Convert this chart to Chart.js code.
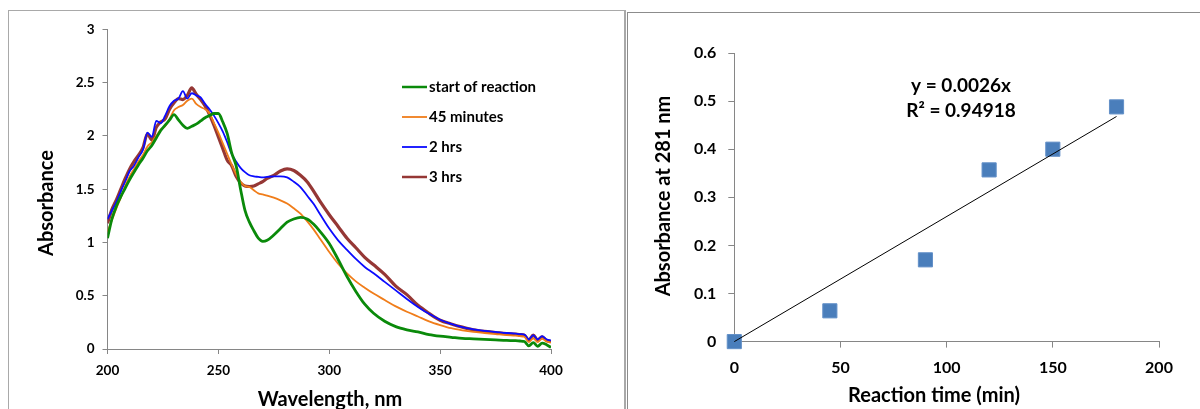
<!DOCTYPE html>
<html lang="en">
<head>
  <meta charset="UTF-8">
  <title>Absorbance vs. reaction time</title>
  <script src="https://cdn.jsdelivr.net/npm/chart.js"></script>
  <style>
    html, body {
      margin: 0;
      padding: 0;
      background: #ffffff;
      overflow: hidden;
      width: 1200px;
      height: 409px;
    }
    .panel {
      position: absolute;
      background: #ffffff;
    }
    #spectraPanel {
      left: 8px;
      top: 10px;
      width: 615px;
      height: 420px;
      border: 1px solid #a9a9a9;
      border-right-width: 2px;
    }
    #kineticsPanel {
      left: 627px;
      top: 12px;
      width: 600px;
      height: 420px;
      border: 1px solid #8c8c8c;
    }
    canvas {
      position: absolute;
      top: 0;
    }
    #spectraChart { left: 0; }
    #kineticsChart { left: 627px; }
  </style>
</head>
<body>
  <div class="panel" id="spectraPanel"></div>
  <div class="panel" id="kineticsPanel"></div>
  <canvas id="spectraChart" width="625" height="420"></canvas>
  <canvas id="kineticsChart" width="573" height="420"></canvas>

  <script>
    // UV spectra, absorbance per wavelength (nm)
    const wavelengths = [
      200, 202, 204, 206, 208, 210, 212, 214, 216, 218,
      220, 222, 224, 226, 228, 230, 232, 234, 236, 238,
      240, 242, 244, 246, 248, 250, 252, 254, 256, 258,
      260, 262, 264, 266, 268, 270, 272, 275, 278, 281,
      284, 287, 290, 293, 296, 300, 304, 308, 312, 316,
      320, 325, 330, 335, 340, 345, 350, 355, 360, 365,
      370, 375, 380, 384, 386, 388, 390, 392, 394, 396,
      398, 400
    ];
    const startOfReaction = [
      1.04, 1.22, 1.34, 1.43, 1.51, 1.59, 1.66, 1.73, 1.79, 1.86,
      1.91, 1.98, 2.05, 2.10, 2.15, 2.20, 2.15, 2.10, 2.07, 2.09,
      2.11, 2.14, 2.17, 2.19, 2.21, 2.21, 2.13, 2.02, 1.84, 1.72,
      1.50, 1.30, 1.19, 1.11, 1.04, 1.01, 1.02, 1.07, 1.13, 1.19,
      1.22, 1.235, 1.22, 1.17, 1.10, 0.99, 0.84, 0.68, 0.54, 0.42,
      0.335, 0.26, 0.21, 0.18, 0.16, 0.135, 0.12, 0.11, 0.10, 0.095,
      0.09, 0.085, 0.08, 0.078, 0.075, 0.07, 0.03, 0.06, 0.025, 0.055,
      0.04, 0.015
    ];
    const after45min = [
      1.10, 1.21, 1.32, 1.42, 1.53, 1.62, 1.69, 1.76, 1.82, 1.90,
      1.94, 2.00, 2.06, 2.09, 2.16, 2.24, 2.27, 2.29, 2.33, 2.35,
      2.30, 2.27, 2.25, 2.21, 2.12, 2.03, 1.93, 1.83, 1.73, 1.64,
      1.57, 1.53, 1.52, 1.49, 1.46, 1.45, 1.44, 1.42, 1.395, 1.365,
      1.32, 1.27, 1.20, 1.12, 1.03, 0.91, 0.80, 0.71, 0.635, 0.575,
      0.52, 0.46, 0.40, 0.35, 0.305, 0.26, 0.225, 0.195, 0.175, 0.16,
      0.15, 0.14, 0.13, 0.125, 0.12, 0.115, 0.065, 0.10, 0.065, 0.095,
      0.07, 0.06
    ];
    const after2hrs = [
      1.22, 1.30, 1.38, 1.48, 1.57, 1.67, 1.72, 1.80, 1.87, 2.03,
      1.99, 2.14, 2.12, 2.19, 2.28, 2.33, 2.35, 2.42, 2.35, 2.40,
      2.38, 2.36, 2.30, 2.25, 2.19, 2.12, 2.04, 1.94, 1.83, 1.76,
      1.70, 1.66, 1.63, 1.62, 1.615, 1.61, 1.615, 1.62, 1.62, 1.61,
      1.57, 1.52, 1.44, 1.36, 1.26, 1.13, 1.02, 0.93, 0.845, 0.77,
      0.71, 0.63, 0.55, 0.47, 0.395, 0.33, 0.275, 0.235, 0.205, 0.185,
      0.17, 0.16, 0.15, 0.145, 0.14, 0.135, 0.09, 0.13, 0.09, 0.12,
      0.09, 0.08
    ];
    const after3hrs = [
      1.18, 1.31, 1.40, 1.50, 1.60, 1.69, 1.76, 1.82, 1.89, 2.02,
      1.96, 2.08, 2.13, 2.16, 2.25, 2.31, 2.35, 2.34, 2.38, 2.45,
      2.39, 2.34, 2.28, 2.20, 2.10, 1.99, 1.88, 1.77, 1.72, 1.62,
      1.56, 1.53, 1.525, 1.53, 1.55, 1.57, 1.60, 1.63, 1.67, 1.69,
      1.675, 1.63, 1.57, 1.48, 1.38, 1.26, 1.15, 1.04, 0.95, 0.86,
      0.79, 0.70, 0.59, 0.51, 0.41, 0.335, 0.27, 0.235, 0.205, 0.18,
      0.165, 0.155, 0.145, 0.14, 0.135, 0.13, 0.085, 0.13, 0.085, 0.115,
      0.08, 0.07
    ];
    const spectraLabels = ['start of reaction', '45 minutes', '2 hrs', '3 hrs'];

    // Absorbance at 281 nm against reaction time
    const reactionTimes = [0, 45, 90, 120, 150, 180];
    const absorbance281 = [0, 0.064, 0.170, 0.357, 0.400, 0.488];
    const trendSlope = 0.0026;
    const trendR2 = 0.94918;

    const FONT = 'Lato';
    const AXIS_GREY = '#868686';

    // Text items (axis titles, equation) drawn at fixed canvas positions
    const freeTextPlugin = {
      id: 'freeText',
      afterDraw: (chart, args, opts) => {
        const ctx = chart.ctx;
        (opts.items || []).forEach((item) => {
          ctx.save();
          ctx.font = 'bold ' + item.size + 'px ' + FONT;
          ctx.fillStyle = '#000000';
          ctx.textAlign = 'center';
          ctx.textBaseline = 'middle';
          ctx.translate(item.x, item.y);
          if (item.rotate) ctx.rotate(item.rotate);
          ctx.fillText(item.text, 0, 0);
          ctx.restore();
        });
      }
    };

    // Legend drawn inside the plot area
    const insideLegendPlugin = {
      id: 'insideLegend',
      afterDraw: (chart, args, opts) => {
        if (!opts.x) return;
        const ctx = chart.ctx;
        ctx.save();
        ctx.font = 'bold ' + opts.size + 'px ' + FONT;
        ctx.textBaseline = 'middle';
        chart.data.datasets.forEach((ds, i) => {
          const y = opts.y + i * opts.rowGap;
          ctx.beginPath();
          ctx.strokeStyle = ds.borderColor;
          ctx.lineWidth = Math.min(ds.borderWidth, 2.5);
          ctx.moveTo(opts.x, y);
          ctx.lineTo(opts.x + opts.lineLength, y);
          ctx.stroke();
          ctx.fillStyle = '#000000';
          ctx.fillText(ds.label, opts.x + opts.lineLength + 2, y);
        });
        ctx.restore();
      }
    };

    function axisStyle(size, step, tickLength, padding) {
      return {
        ticks: {
          color: '#000000',
          padding: padding,
          stepSize: step,
          font: { family: FONT, weight: 'bold', size: size },
          callback: (v) => String(Math.round(v * 100) / 100)
        },
        grid: { drawOnChartArea: false, drawTicks: true, tickLength: tickLength, color: AXIS_GREY },
        border: { color: AXIS_GREY, width: 1 }
      };
    }

    const toPoints = (xs, ys) => ys.map((y, i) => ({ x: xs[i], y: y }));
    const spectraColors = ['#0a8a0a', '#f07d1a', '#0b0bff', '#953735'];
    const spectraWidths = [2.8, 1.8, 1.8, 3.2];
    const spectraSeries = [startOfReaction, after45min, after2hrs, after3hrs];

    new Chart(document.getElementById('spectraChart'), {
      type: 'line',
      data: {
        datasets: spectraSeries.map((values, i) => ({
          label: spectraLabels[i],
          data: toPoints(wavelengths, values),
          borderColor: spectraColors[i],
          borderWidth: spectraWidths[i],
          pointRadius: 0,
          cubicInterpolationMode: 'monotone',
          fill: false
        }))
      },
      options: {
        responsive: false,
        animation: false,
        layout: { padding: { top: 29.3, right: 74, left: 0, bottom: 0 } },
        scales: {
          x: Object.assign(axisStyle(13.5, 50, 5, 9), {
            type: 'linear', min: 200, max: 400,
            afterFit: (s) => { s.height = 71; }
          }),
          y: Object.assign(axisStyle(13.5, 0.5, 5, 8), {
            min: 0, max: 3,
            afterFit: (s) => { s.width = 107.5; }
          })
        },
        plugins: {
          legend: { display: false },
          tooltip: { enabled: false },
          insideLegend: { x: 402, y: 87, rowGap: 30, lineLength: 25, size: 15 },
          freeText: {
            items: [
              { text: 'Absorbance', x: 47, y: 203, size: 20, rotate: -Math.PI / 2 },
              { text: 'Wavelength, nm', x: 330, y: 400, size: 20 }
            ]
          }
        }
      },
      plugins: [insideLegendPlugin, freeTextPlugin]
    });

    // trend line through the origin, y = slope * x
    const trendX = [0, reactionTimes[reactionTimes.length - 1]];
    const trendY = trendX.map((x) => trendSlope * x);

    new Chart(document.getElementById('kineticsChart'), {
      type: 'scatter',
      data: {
        datasets: [
          {
            label: 'Linear fit',
            data: toPoints(trendX, trendY),
            showLine: true,
            borderColor: '#000000',
            borderWidth: 1,
            pointRadius: 0,
            clip: false
          },
          {
            label: 'Absorbance at 281 nm',
            data: toPoints(reactionTimes, absorbance281),
            pointStyle: 'rect',
            pointRadius: 10,
            backgroundColor: '#4a7ebb',
            borderColor: '#6390c8',
            borderWidth: 1,
            clip: false
          }
        ]
      },
      options: {
        responsive: false,
        animation: false,
        layout: { padding: { top: 53, right: 41, left: 0, bottom: 0 } },
        scales: {
          x: Object.assign(axisStyle(16, 50, 6, 11), {
            type: 'linear', min: 0, max: 200,
            afterFit: (s) => { s.height = 78.4; }
          }),
          y: Object.assign(axisStyle(16, 0.1, 6, 12), {
            min: 0, max: 0.6,
            afterFit: (s) => { s.width = 107.3; }
          })
        },
        plugins: {
          legend: { display: false },
          tooltip: { enabled: false },
          freeText: {
            items: [
              { text: 'Absorbance at 281 nm', x: 37, y: 196, size: 20, rotate: -Math.PI / 2 },
              { text: 'Reaction time (min)', x: 307, y: 396, size: 20 },
              { text: 'y = ' + trendSlope + 'x', x: 334, y: 86, size: 19 },
              { text: 'R\u00B2 = ' + trendR2, x: 334, y: 111, size: 19 }
            ]
          }
        }
      },
      plugins: [freeTextPlugin]
    });
  </script>
</body>
</html>
